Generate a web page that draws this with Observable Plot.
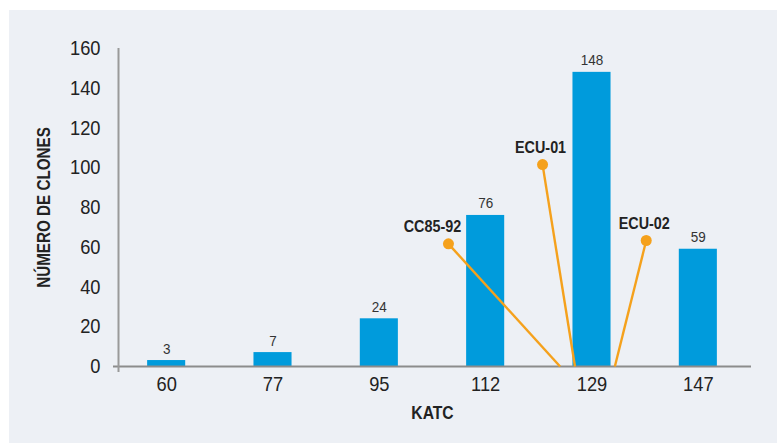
<!DOCTYPE html>
<html>
<head>
<meta charset="utf-8">
<script src="https://cdn.jsdelivr.net/npm/d3@7"></script>
<script src="https://cdn.jsdelivr.net/npm/@observablehq/plot@0.6"></script>
<style>
  html, body { margin: 0; padding: 0; background: #ffffff; }
  #wrap { position: relative; width: 777px; height: 443px; overflow: hidden; }
  #panel { position: absolute; left: 9px; top: 10px; width: 768px; height: 433px; background: #edf0f5; }
  #chart { position: absolute; left: 0; top: 0; }
  #chart svg { background: transparent; }
</style>
</head>
<body>
<div id="wrap"><div id="panel"></div><div id="chart"></div></div>
<script>
// KATC categories and clone counts
const katc = ["60", "77", "95", "112", "129", "147"];
const clones = [3, 7, 24, 76, 148, 59];

// Reference strains: label point (in category-index units) and where the leader line meets the axis
const strains = ["CC85-92", "ECU-01", "ECU-02"];
const strainX = [2.65, 3.535, 4.51];
const strainY = [61.7, 101.6, 63.4];
const strainBaseX = [3.70, 3.84, 4.215];

const yTicks = [0, 20, 40, 60, 80, 100, 120, 140, 160];

const FONT = "'Liberation Sans', Arial, sans-serif";
const NARROW = 0.87; // horizontal squeeze for a condensed look
const BLUE = "#009bdc";
const ORANGE = "#f5a11c";
const HALF = 0.179;

const bars = katc.map((k, i) => ({i, k, n: clones[i]}));
const refs = strains.map((s, j) => ({s, x: strainX[j], y: strainY[j], bx: strainBaseX[j]}));

const chart = Plot.plot({
  width: 777,
  height: 443,
  marginLeft: 113,
  marginRight: 26,
  marginTop: 48,
  marginBottom: 77,
  style: {fontFamily: FONT, background: "transparent", overflow: "visible"},
  x: {type: "linear", domain: [-0.5, 5.5]},
  y: {domain: [0, 160]},
  marks: [
    Plot.axisY({ticks: yTicks, tickSize: 0, tickPadding: 13, fontSize: 21, label: null, color: "#222"}),
    Plot.axisX({ticks: d3.range(katc.length), tickFormat: i => katc[i], tickSize: 0, tickPadding: 10, fontSize: 21, label: null, color: "#222"}),
    Plot.rectY(bars, {x1: d => d.i - HALF, x2: d => d.i + HALF, y: "n", fill: BLUE}),
    Plot.text(bars, {x: "i", y: "n", text: d => String(d.n), dy: -7, lineAnchor: "bottom", fontSize: 15.5, fill: "#333"}),
    // axis lines
    Plot.ruleY([0], {x1: -0.5, x2: 5.5, stroke: "#8c8c8c", strokeWidth: 2}),
    Plot.ruleX([-0.5], {y1: -3, y2: 160, dx: 5, stroke: "#9a9a9a", strokeWidth: 2}),
    // leader lines and markers
    Plot.link(refs, {x1: "x", y1: "y", x2: "bx", y2: 0, stroke: ORANGE, strokeWidth: 2.4}),
    Plot.dot(refs, {x: "x", y: "y", r: 5.5, fill: ORANGE}),
    Plot.text(refs.filter(d => d.s === "CC85-92"), {x: "x", y: "y", text: "s", dx: -16, dy: -17, fontSize: 16.5, fontWeight: "bold", fill: "#222"}),
    Plot.text(refs.filter(d => d.s !== "CC85-92"), {x: "x", y: "y", text: "s", dx: -2, dy: -17, fontSize: 16.5, fontWeight: "bold", fill: "#222"}),
    // axis titles
    Plot.text(["NÚMERO DE CLONES"], {frameAnchor: "left", textAnchor: "middle", rotate: -90, dx: -69, fontSize: 17.5, fontWeight: "bold", fill: "#222"}),
    Plot.text(["KATC"], {frameAnchor: "bottom", textAnchor: "middle", dy: 52, fontSize: 18, fontWeight: "bold", fill: "#222"})
  ]
});
document.getElementById("chart").appendChild(chart);

// squeeze every label horizontally
chart.querySelectorAll("text").forEach(t => {
  const w = t.getComputedTextLength();
  if (w > 0) {
    t.setAttribute("textLength", (w * NARROW).toFixed(2));
    t.setAttribute("lengthAdjust", "spacingAndGlyphs");
  }
});
</script>
</body>
</html>
